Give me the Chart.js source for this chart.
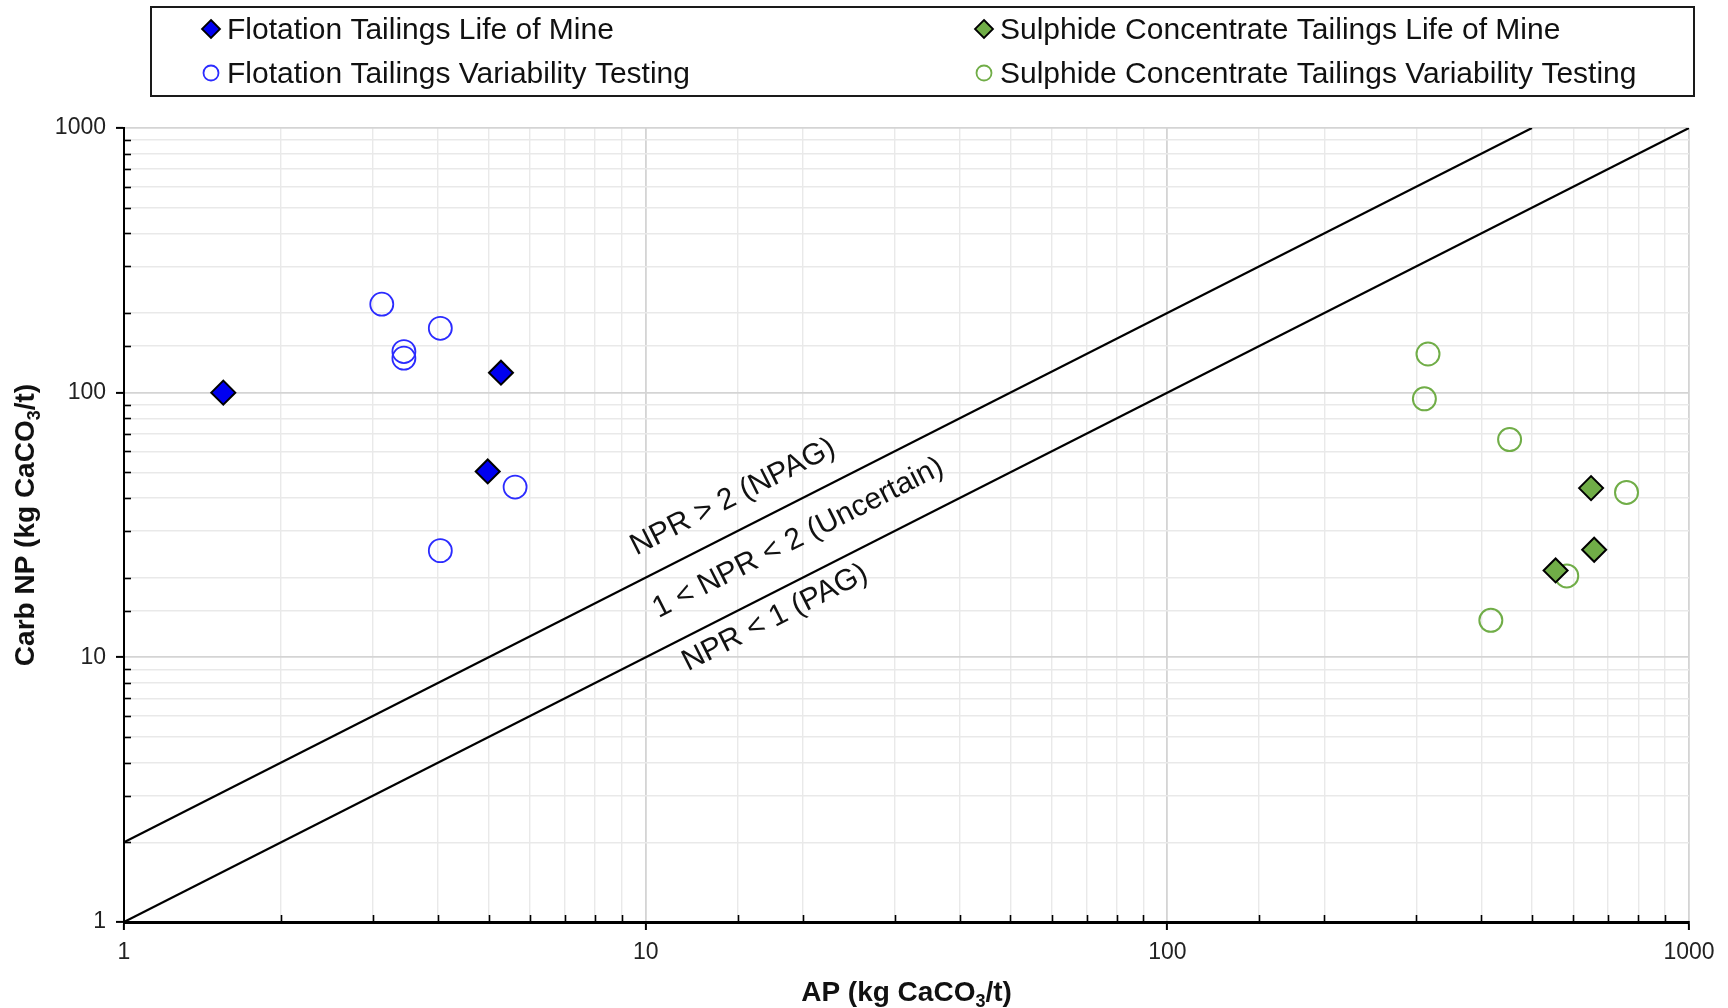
<!DOCTYPE html>
<html>
<head>
<meta charset="utf-8">
<script src="https://cdn.jsdelivr.net/npm/chart.js@4.4.1/dist/chart.umd.min.js"></script>
<style>
  html, body { margin: 0; padding: 0; background: #ffffff; }
  canvas { display: block; }
</style>
</head>
<body>
<canvas id="c" width="1728" height="1008"></canvas>
<script>
// ---------------- data ----------------
const seriesNames = [
  'Flotation Tailings Life of Mine',
  'Sulphide Concentrate Tailings Life of Mine',
  'Flotation Tailings Variability Testing',
  'Sulphide Concentrate Tailings Variability Testing'
];
const flotLomAP = [1.55, 5.28, 4.98];
const flotLomNP = [100, 119, 50.4];
const flotVarAP = [3.12, 3.44, 3.44, 4.04, 5.62, 4.04];
const flotVarNP = [216, 135, 143, 175, 44, 25.3];
const sulLomAP = [649, 658, 555];
const sulLomNP = [43.6, 25.5, 21.3];
const sulVarAP = [316, 311, 453, 759, 583, 417];
const sulVarNP = [140, 94.8, 66.5, 42, 20.3, 13.8];

// NPR reference lines (NP = ratio * AP)
const npr2AP = [1, 500];
const npr2NP = [2, 1000];
const npr1AP = [1, 1000];
const npr1NP = [1, 1000];

// region labels, anchored at data positions
const zoneLabels = ['NPR > 2 (NPAG)', '1 < NPR < 2 (Uncertain)', 'NPR < 1 (PAG)'];
const zoneLabelAP = [14.7, 19.6, 17.7];
const zoneLabelNP = [40.3, 28.2, 14.1];

const axisTicks = [1, 10, 100, 1000];
const xTitle = ['AP (kg CaCO', '3', '/t)'];
const yTitle = ['Carb NP (kg CaCO', '3', '/t)'];

// ---------------- helpers ----------------
const FONT = '"Liberation Sans", Arial, Helvetica, sans-serif';
const zip = (xs, ys) => xs.map((x, i) => ({ x: x, y: ys[i] }));
const isMajor = v => Math.abs(Math.log10(v) - Math.round(Math.log10(v))) < 1e-9;

const BLUE = '#0000f0';
const BLUE_LINE = '#2b2bff';
const GREEN = '#70ad47';

const datasets = [
  { label: seriesNames[0], data: zip(flotLomAP, flotLomNP), pointStyle: 'rectRot', pointRadius: 12, pointHoverRadius: 12,
    backgroundColor: BLUE, borderColor: '#000', pointBorderWidth: 2, showLine: false },
  { label: seriesNames[1], data: zip(sulLomAP, sulLomNP), pointStyle: 'rectRot', pointRadius: 12, pointHoverRadius: 12,
    backgroundColor: GREEN, borderColor: '#000', pointBorderWidth: 2, showLine: false },
  { label: seriesNames[2], data: zip(flotVarAP, flotVarNP), pointStyle: 'circle', pointRadius: 11.5, pointHoverRadius: 11.5,
    backgroundColor: 'rgba(255,255,255,0)', borderColor: BLUE_LINE, pointBorderWidth: 1.8, showLine: false },
  { label: seriesNames[3], data: zip(sulVarAP, sulVarNP), pointStyle: 'circle', pointRadius: 11.5, pointHoverRadius: 11.5,
    backgroundColor: 'rgba(255,255,255,0)', borderColor: GREEN, pointBorderWidth: 2, showLine: false },
  { label: 'NPR = 2', data: zip(npr2AP, npr2NP), showLine: true, pointRadius: 0, borderColor: '#000', borderWidth: 2.2, fill: false },
  { label: 'NPR = 1', data: zip(npr1AP, npr1NP), showLine: true, pointRadius: 0, borderColor: '#000', borderWidth: 2.2, fill: false }
];

// ---------------- plugins ----------------
const minorTicksPlugin = {
  id: 'minorTicks',
  afterDatasetsDraw(chart) {
    const ctx = chart.ctx, a = chart.chartArea;
    const xs = chart.scales.x, ys = chart.scales.y;
    ctx.save();
    ctx.strokeStyle = '#000';
    ctx.lineWidth = 1.6;
    xs.ticks.forEach(t => {
      if (isMajor(t.value)) return;
      const px = Math.round(xs.getPixelForValue(t.value)) + 0.5;
      ctx.beginPath(); ctx.moveTo(px, a.bottom); ctx.lineTo(px, a.bottom - 7); ctx.stroke();
    });
    ys.ticks.forEach(t => {
      if (isMajor(t.value)) return;
      const py = Math.round(ys.getPixelForValue(t.value)) + 0.5;
      ctx.beginPath(); ctx.moveTo(a.left, py); ctx.lineTo(a.left + 7, py); ctx.stroke();
    });
    ctx.restore();
  }
};

function drawSubText(ctx, parts, size) {
  const main = 'bold ' + size + 'px ' + FONT;
  const sub = 'bold ' + Math.round(size * 0.66) + 'px ' + FONT;
  ctx.font = main; const w0 = ctx.measureText(parts[0]).width;
  ctx.font = sub; const w1 = ctx.measureText(parts[1]).width;
  ctx.font = main; const w2 = ctx.measureText(parts[2]).width;
  let x = -(w0 + w1 + w2) / 2;
  ctx.textAlign = 'left'; ctx.textBaseline = 'alphabetic';
  ctx.font = main; ctx.fillText(parts[0], x, 0); x += w0;
  ctx.font = sub; ctx.fillText(parts[1], x, size * 0.22); x += w1;
  ctx.font = main; ctx.fillText(parts[2], x, 0);
}

const annotPlugin = {
  id: 'annot',
  afterDraw(chart) {
    const ctx = chart.ctx, a = chart.chartArea;
    const xs = chart.scales.x, ys = chart.scales.y;
    ctx.save();
    ctx.fillStyle = '#111';
    const p0x = xs.getPixelForValue(1), p0y = ys.getPixelForValue(1);
    const p1x = xs.getPixelForValue(1000), p1y = ys.getPixelForValue(1000);
    const ang = Math.atan2(p1y - p0y, p1x - p0x);
    ctx.font = '30px ' + FONT;
    ctx.textAlign = 'center'; ctx.textBaseline = 'middle';
    zoneLabels.forEach((t, i) => {
      ctx.save();
      ctx.translate(xs.getPixelForValue(zoneLabelAP[i]), ys.getPixelForValue(zoneLabelNP[i]));
      ctx.rotate(ang);
      ctx.fillText(t, 0, 0);
      ctx.restore();
    });
    // axis titles
    ctx.save();
    ctx.translate((a.left + a.right) / 2, 1001);
    drawSubText(ctx, xTitle, 28);
    ctx.restore();
    ctx.save();
    ctx.translate(34, (a.top + a.bottom) / 2);
    ctx.rotate(-Math.PI / 2);
    drawSubText(ctx, yTitle, 28);
    ctx.restore();

    // legend box
    ctx.lineWidth = 2;
    ctx.strokeStyle = '#1a1a1a';
    ctx.strokeRect(151, 7, 1543, 89);
    const cols = [211, 984], rows = [29, 73];
    const items = [[0, 0, 0], [1, 1, 0], [2, 0, 1], [3, 1, 1]];
    items.forEach(([di, c, r]) => {
      const ds = chart.data.datasets[di];
      const cx = cols[c], cy = rows[r];
      ctx.save();
      if (ds.pointStyle === 'rectRot') {
        const s = 9;
        ctx.beginPath();
        ctx.moveTo(cx, cy - s); ctx.lineTo(cx + s, cy); ctx.lineTo(cx, cy + s); ctx.lineTo(cx - s, cy); ctx.closePath();
        ctx.fillStyle = ds.backgroundColor; ctx.fill();
        ctx.lineWidth = 1.8; ctx.strokeStyle = '#000'; ctx.stroke();
      } else {
        ctx.beginPath(); ctx.arc(cx, cy, 7.5, 0, Math.PI * 2);
        ctx.lineWidth = 1.8; ctx.strokeStyle = ds.borderColor; ctx.stroke();
      }
      ctx.restore();
      ctx.fillStyle = '#111';
      ctx.font = '30px ' + FONT;
      ctx.textAlign = 'left'; ctx.textBaseline = 'middle';
      ctx.fillText(ds.label, cx + 16, cy + 2);
    });
    ctx.restore();
  }
};

// ---------------- chart ----------------
const gridColor = c => (c.tick && isMajor(c.tick.value)) ? '#d4d4d4' : '#e9e9e9';
const gridWidth = c => (c.tick && isMajor(c.tick.value)) ? 1.8 : 1.4;
const tickColor = c => (c.tick && isMajor(c.tick.value)) ? '#000' : 'rgba(0,0,0,0)';
const tickLabel = v => axisTicks.includes(v) ? String(v) : '';

new Chart(document.getElementById('c'), {
  type: 'scatter',
  data: { datasets: datasets },
  options: {
    responsive: false,
    animation: false,
    events: [],
    layout: { padding: { top: 128, right: 39, left: 0, bottom: 0 } },
    plugins: { legend: { display: false }, tooltip: { enabled: false } },
    scales: {
      x: {
        type: 'logarithmic', min: 1, max: 1000,
        afterFit: s => { s.height = 86; },
        border: { display: true, color: '#000', width: 3 },
        grid: { color: gridColor, lineWidth: gridWidth, drawTicks: true, tickLength: 8, tickColor: tickColor, tickWidth: 2 },
        ticks: { autoSkip: false, maxRotation: 0, padding: 9, color: '#222', font: { family: FONT, size: 23 }, callback: tickLabel }
      },
      y: {
        type: 'logarithmic', min: 1, max: 1000,
        afterFit: s => { s.width = 124; },
        border: { display: true, color: '#000', width: 2 },
        grid: { color: gridColor, lineWidth: gridWidth, drawTicks: true, tickLength: 8, tickColor: tickColor, tickWidth: 2 },
        ticks: { autoSkip: false, padding: 10, color: '#222', font: { family: FONT, size: 23 }, callback: tickLabel }
      }
    }
  },
  plugins: [minorTicksPlugin, annotPlugin]
});
</script>
</body>
</html>
